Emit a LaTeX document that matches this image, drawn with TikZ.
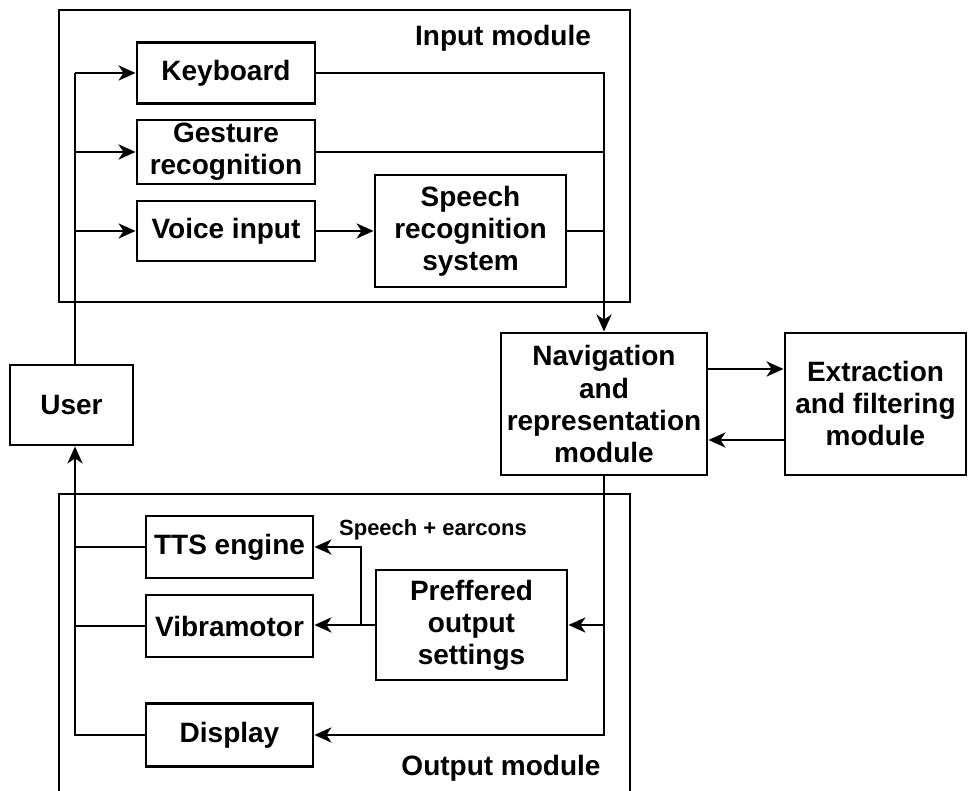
\documentclass[tikz,border=0pt]{standalone}
\usepackage{fontspec}
\setmainfont{Liberation Sans}
\usetikzlibrary{arrows.meta,calc}
\begin{document}
\begin{tikzpicture}[x=1pt,y=1pt,
  every node/.style={font=\bfseries\fontsize{28}{32}\selectfont},
  blk/.style={draw, line width=2.8pt, inner sep=0pt, align=center},
  ln/.style={line width=2.8pt},
  arr/.style={line width=2.8pt, -{Stealth[length=17pt,width=15pt,inset=5pt]}},
  lbl/.style={inner sep=0pt}]
\useasboundingbox (0,0) rectangle (968,791);
\clip (0,0) rectangle (968,791);
% module frames
\draw[ln] (59,781) rectangle (630,489);
\draw[ln] (59,-30) -- (59,297) -- (630,297) -- (630,-30);
\node[lbl] (inlbl) at (503,753) {Input module};
\node[lbl] (outlbl) at (501,23) {Output module};
% nodes
\node[blk, minimum width=178, minimum height=61] (kb) at (226,718) {Keyboard};
\node[blk, minimum width=178, minimum height=64] (ges) at (226,639) {Gesture\\recognition};
\node[blk, minimum width=178, minimum height=60] (voice) at (226,560) {Voice input};
\node[blk, minimum width=191, minimum height=112] (srs) at (470.5,560) {Speech\\recognition\\system};
\node[blk, minimum width=206, minimum height=142] (nav) at (604,387) {Navigation\\and\\representation\\module};
\node[blk, minimum width=181, minimum height=142] (ext) at (875.5,387) {Extraction\\and filtering\\module};
\node[blk, minimum width=123, minimum height=80] (user) at (71.5,386) {User};
\node[blk, minimum width=167, minimum height=62] (tts) at (229.5,244) {TTS engine};
\node[blk, minimum width=167, minimum height=62] (vib) at (229.5,165) {Vibramotor};
\node[blk, minimum width=191, minimum height=110] (pref) at (471.5,166) {Preffered\\output\\settings};
\node[blk, minimum width=167, minimum height=63] (disp) at (229.5,56) {Display};
\node[lbl, font=\bfseries\fontsize{22}{26}\selectfont] (sp) at (433,261) {Speech + earcons};
\coordinate (bus) at (75,0);
\coordinate (br) at (361,165);
% input connectors
\draw[ln] (user.north -| bus) -- (kb.west -| bus);
\draw[arr] (kb.west -| bus) -- (kb.west);
\draw[arr] (ges.west -| bus) -- (ges.west);
\draw[arr] (voice.west -| bus) -- (voice.west);
\draw[arr] (voice.east) -- (srs.west);
\draw[arr] (kb.east) -| (nav.north);
\draw[ln] (ges.east) -- (ges.east -| nav.north);
\draw[ln] (srs.east) -- (srs.east -| nav.north);
% nav <-> extraction
\draw[arr] ([yshift=35]nav.east) -- ([yshift=35]nav.east -| ext.west);
\draw[arr] ([yshift=-36]ext.west) -- ([yshift=-36]ext.west -| nav.east);
% output connectors
\draw[arr] (nav.south) |- (disp.east);
\draw[arr] (nav.south |- pref.east) -- (pref.east);
\draw[arr] (pref.west) -- (pref.west -| vib.east);
\draw[arr] (br) |- (tts.east);
\draw[arr] (disp.west) -- (disp.west -| bus) -- (user.south -| bus);
\draw[ln] (tts.west) -- (tts.west -| bus);
\draw[ln] (vib.west) -- (vib.west -| bus);
\end{tikzpicture}
\end{document}
